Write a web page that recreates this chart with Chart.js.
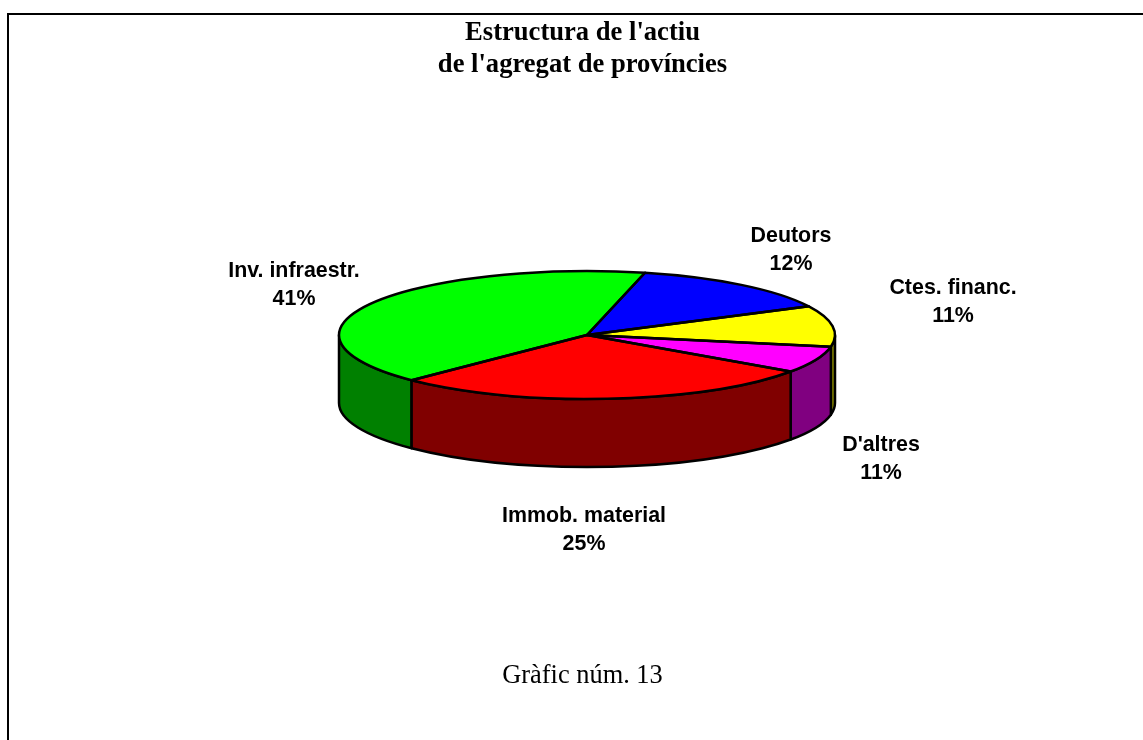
<!DOCTYPE html>
<html lang="ca">
<head>
<meta charset="utf-8">
<title>Estructura de l'actiu de l'agregat de províncies</title>
<style>
html,body{margin:0;padding:0;background:#fff;}
canvas{display:block;}
</style>
<script src="https://cdn.jsdelivr.net/npm/chart.js@4/dist/chart.umd.min.js"></script>
</head>
<body>
<canvas id="c" width="1143" height="740"></canvas>
<script>
const titleLines = ["Estructura de l'actiu", "de l'agregat de províncies"];
const caption = "Gràfic núm. 13";
const categories = ["Inv. infraestr.", "Deutors", "Ctes. financ.", "D'altres", "Immob. material"];
const printedLabels = ["41%", "12%", "11%", "11%", "25%"];
const sliceValues = [41.25, 13.86, 10.3, 6.75, 27.83];
const topColors = ["#00ff00", "#0000ff", "#ffff00", "#ff00ff", "#ff0000"];
const wallColors = ["#008000", "#000080", "#808000", "#800080", "#800000"];
const labelCenters = [[294, 271], [791, 236], [953, 288], [881, 445], [584, 516]];

const PIE = {cx: 587, cy: 335, rx: 248, ry: 64, depth: 68, line: 2.5};
const squash = PIE.ry / PIE.rx;
const TWO_PI = Math.PI * 2;

function arcs(chart){ return chart.getDatasetMeta(0).data; }

const pie3d = {
  id: 'pie3d',
  afterLayout(chart){
    // the pie's circle, later squashed into the tilted ellipse
    chart.chartArea = {
      left: PIE.cx - PIE.rx, right: PIE.cx + PIE.rx,
      top: PIE.cy - PIE.rx, bottom: PIE.cy + PIE.rx,
      width: PIE.rx * 2, height: PIE.rx * 2
    };
    chart.boxes.forEach(b => {
      if (b.options && b.options.text !== undefined) { b.left += 11; b.right += 11; }
    });
  },
  beforeDatasetsDraw(chart){
    const ctx = chart.ctx;
    // frame
    ctx.save();
    ctx.fillStyle = '#000';
    ctx.fillRect(7, 13, 1136, 2);
    ctx.fillRect(7, 13, 2, 727);
    ctx.restore();

    // side walls: only the near half of the rim is visible
    ctx.save();
    ctx.lineWidth = PIE.line;
    ctx.strokeStyle = '#000';
    ctx.lineJoin = 'round';
    arcs(chart).forEach((el, i) => {
      let a = el.startAngle, b = el.endAngle;
      for (const k of [0, -1]) {
        const s = Math.max(a + k * TWO_PI, 0), e = Math.min(b + k * TWO_PI, Math.PI);
        if (e <= s) continue;
        ctx.beginPath();
        ctx.ellipse(PIE.cx, PIE.cy, PIE.rx, PIE.ry, 0, s, e);
        ctx.ellipse(PIE.cx, PIE.cy + PIE.depth, PIE.rx, PIE.ry, 0, e, s, true);
        ctx.closePath();
        ctx.fillStyle = wallColors[i];
        ctx.fill();
        ctx.stroke();
      }
    });
    ctx.restore();

    // squash the library's arcs into the ellipse
    ctx.save();
    ctx.translate(PIE.cx, PIE.cy);
    ctx.scale(1, squash);
    ctx.translate(-PIE.cx, -PIE.cy);
  },
  afterDatasetsDraw(chart){
    const ctx = chart.ctx;
    ctx.restore();

    // slice outlines at an even line width
    ctx.save();
    ctx.lineWidth = PIE.line;
    ctx.strokeStyle = '#000';
    ctx.lineJoin = 'round';
    arcs(chart).forEach(el => {
      ctx.beginPath();
      ctx.moveTo(PIE.cx, PIE.cy);
      ctx.ellipse(PIE.cx, PIE.cy, PIE.rx, PIE.ry, 0, el.startAngle, el.endAngle);
      ctx.closePath();
      ctx.stroke();
    });
    ctx.restore();

    // labels
    ctx.save();
    ctx.fillStyle = '#000';
    ctx.font = 'bold 21.4px "Liberation Sans"';
    ctx.textAlign = 'center';
    ctx.textBaseline = 'middle';
    categories.forEach((name, i) => {
      const [x, y] = labelCenters[i];
      ctx.fillText(name, x, y);
      ctx.fillText(printedLabels[i], x, y + 28);
    });
    ctx.restore();
  }
};

new Chart(document.getElementById('c'), {
  type: 'pie',
  data: {
    labels: categories,
    datasets: [{
      data: sliceValues,
      backgroundColor: topColors,
      borderWidth: 0,
      hoverBorderWidth: 0,
      hoverOffset: 0
    }]
  },
  options: {
    responsive: false,
    animation: false,
    rotation: 225,
    events: [],
    layout: {padding: 0},
    plugins: {
      legend: {display: false},
      tooltip: {enabled: false},
      title: {
        display: true,
        text: titleLines,
        color: '#000',
        font: {family: '"Liberation Serif"', size: 26.6, weight: 'bold', lineHeight: 1.17},
        padding: {top: 18, bottom: 0}
      },
      subtitle: {
        display: true,
        position: 'bottom',
        text: caption,
        color: '#000',
        font: {family: '"Liberation Serif"', size: 26.4, weight: 'normal', lineHeight: 1.2},
        padding: {top: 0, bottom: 48}
      }
    }
  },
  plugins: [pie3d]
});
</script>
</body>
</html>
